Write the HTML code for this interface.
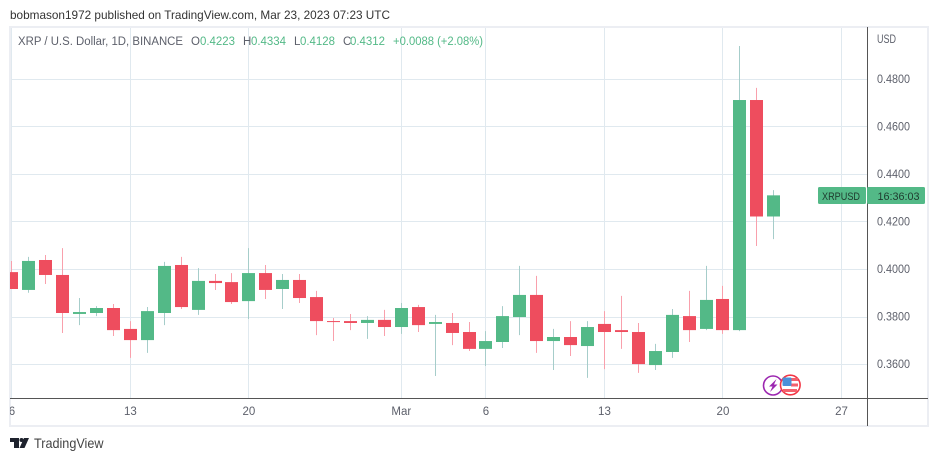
<!DOCTYPE html>
<html lang="en">
<head>
<meta charset="utf-8">
<title>XRP / U.S. Dollar chart</title>
<style>
html,body{margin:0;padding:0;background:#fff;width:939px;height:461px;overflow:hidden}
svg{display:block;font-family:"Liberation Sans",sans-serif}
</style>
</head>
<body>
<svg id="chart" width="939" height="461" viewBox="0 0 939 461" xmlns="http://www.w3.org/2000/svg">
  <defs><clipPath id="plot-clip"><rect x="10" y="28" width="857" height="370"/></clipPath></defs>
  <text x="10" y="19" font-size="12" fill="#333" textLength="380" lengthAdjust="spacingAndGlyphs">bobmason1972 published on TradingView.com, Mar 23, 2023 07:23 UTC</text>
  <rect x="10" y="27" width="918" height="399" fill="#fff" stroke="#eceef3" stroke-width="2"/>
  <g id="grid"></g>
  <g id="candles" clip-path="url(#plot-clip)"></g>
  <line x1="867.5" y1="27" x2="867.5" y2="426" stroke="#555"/>
  <line x1="10" y1="398.5" x2="928" y2="398.5" stroke="#555"/>
  <g id="price-axis" font-size="11.5" fill="#5d606b"></g>
  <text x="877" y="43" font-size="11.5" fill="#5d606b" textLength="19" lengthAdjust="spacingAndGlyphs">USD</text>
  <g id="time-axis" font-size="11.5" fill="#5d606b"></g>

  <g font-size="11.5">
    <text x="18" y="45" fill="#5d606b" textLength="165" lengthAdjust="spacingAndGlyphs">XRP / U.S. Dollar, 1D, BINANCE</text>
    <text x="191" y="45" fill="#5d606b">O</text>
    <text x="200" y="45" fill="#53b987" textLength="35" lengthAdjust="spacingAndGlyphs">0.4223</text>
    <text x="243" y="45" fill="#5d606b">H</text>
    <text x="251" y="45" fill="#53b987" textLength="35" lengthAdjust="spacingAndGlyphs">0.4334</text>
    <text x="294" y="45" fill="#5d606b">L</text>
    <text x="300" y="45" fill="#53b987" textLength="35" lengthAdjust="spacingAndGlyphs">0.4128</text>
    <text x="343" y="45" fill="#5d606b">C</text>
    <text x="350" y="45" fill="#53b987" textLength="35" lengthAdjust="spacingAndGlyphs">0.4312</text>
    <text x="393" y="45" fill="#53b987" textLength="90" lengthAdjust="spacingAndGlyphs">+0.0088 (+2.08%)</text>
  </g>

  <g>
    <rect x="818" y="187" width="48" height="17" rx="1.5" fill="#53b987"/>
    <rect x="867" y="187" width="58" height="17" rx="1.5" fill="#53b987"/>
    <text x="822" y="200" font-size="11" fill="#1f3a2e" textLength="38" lengthAdjust="spacingAndGlyphs">XRPUSD</text>
    <text x="877.5" y="200" font-size="11" fill="#1f3a2e" textLength="42" lengthAdjust="spacingAndGlyphs">16:36:03</text>
  </g>

  <g>
    <g>
      <circle cx="773" cy="385.5" r="9.5" fill="#fff" stroke="#9c27b0" stroke-width="1.6"/>
      <polygon points="776.5,379 769,386.5 772.5,386.5 770,392 777.5,384.5 774,384.5" fill="#9c27b0"/>
    </g>
    <g>
      <circle cx="790.3" cy="385" r="9.8" fill="#fff" stroke="#f23645" stroke-width="1.6"/>
      <rect x="783" y="378" width="15" height="3" fill="#f4606c"/>
      <rect x="791" y="383.5" width="7" height="3" fill="#f4606c"/>
      <rect x="783" y="389" width="14" height="3" fill="#f4606c"/>
      <rect x="782.5" y="377.5" width="9" height="8.5" rx="1" fill="#4a90d9"/>
    </g>
  </g>

  <g>
    <polygon points="10,438 19,438 19,448 14,448 14,442 10,442" fill="#1e222d"/>
    <circle cx="21.5" cy="440" r="2" fill="#1e222d"/>
    <polygon points="24,438 29,438 24.5,448 19.5,448" fill="#1e222d"/>
    <text x="34" y="448" font-size="14" fill="#444" textLength="69.5" lengthAdjust="spacingAndGlyphs">TradingView</text>
  </g>
</svg>
<script>
const categories = ["Feb 6","Feb 7","Feb 8","Feb 9","Feb 10","Feb 11","Feb 12","Feb 13","Feb 14","Feb 15","Feb 16","Feb 17","Feb 18","Feb 19","Feb 20","Feb 21","Feb 22","Feb 23","Feb 24","Feb 25","Feb 26","Feb 27","Feb 28","Mar 1","Mar 2","Mar 3","Mar 4","Mar 5","Mar 6","Mar 7","Mar 8","Mar 9","Mar 10","Mar 11","Mar 12","Mar 13","Mar 14","Mar 15","Mar 16","Mar 17","Mar 18","Mar 19","Mar 20","Mar 21","Mar 22","Mar 23"];
const opens = [.3989,.3914,.4040,.3977,.3813,.3817,.3838,.3750,.3703,.3817,.4019,.3830,.3952,.3947,.3867,.3985,.3918,.3956,.3884,.3783,.3783,.3775,.3788,.3758,.3842,.3771,.3775,.3737,.3666,.3695,.3800,.3893,.3699,.3716,.3678,.3771,.3745,.3737,.3598,.3653,.3804,.3750,.3876,.3745,.4713,.4223];
const closes = [.3918,.4036,.3977,.3817,.3821,.3838,.3745,.3703,.3825,.4015,.3842,.3952,.3943,.3863,.3985,.3914,.3956,.3880,.3783,.3779,.3775,.3788,.3758,.3838,.3766,.3779,.3733,.3666,.3699,.3804,.3893,.3699,.3716,.3682,.3758,.3737,.3737,.3602,.3657,.3809,.3745,.3872,.3745,.4713,.4223,.4312];
const highs = [.4036,.4053,.4061,.4090,.3880,.3846,.3855,.3783,.3842,.4032,.4053,.4006,.3981,.3985,.4090,.4019,.3981,.3981,.3910,.3796,.3813,.3804,.3830,.3859,.3851,.3809,.3817,.3779,.3741,.3846,.4015,.3973,.3750,.3783,.3783,.3825,.3889,.3775,.3687,.3834,.3910,.4015,.3931,.4940,.4764,.4334];
const lows = [.3918,.3902,.3939,.3733,.3766,.3804,.3720,.3628,.3649,.3766,.3834,.3809,.3914,.3855,.3792,.3876,.3834,.3859,.3724,.3699,.3745,.3708,.3720,.3729,.3737,.3552,.3682,.3657,.3594,.3670,.3724,.3649,.3577,.3636,.3544,.3581,.3666,.3565,.3577,.3628,.3695,.3745,.3729,.3741,.4099,.4128];
const priceTicks = [0.48,0.46,0.44,0.42,0.40,0.38,0.36];
const timeTickLabels = ["6","13","20","Mar","6","13","20","27"];
const timeTickDays = [0,7,14,23,28,35,42,49];

const NS = "http://www.w3.org/2000/svg";
const xScale = d => 11.9 + 16.93 * d;
const yScale = v => 269.5 - (v - 0.40) * 2377;
const crisp = p => Math.floor(p) + 0.5;
const GREEN = "#53b987", RED = "#ee4d5e", GREEN_WICK = "#a6cdca", RED_WICK = "#f9a0ac", GRID = "#e0e9ef";
const mk = (tag, attrs) => {
  const el = document.createElementNS(NS, tag);
  for (const k in attrs) el.setAttribute(k, attrs[k]);
  return el;
};
const grid = document.getElementById("grid");
const priceAxis = document.getElementById("price-axis");
const timeAxis = document.getElementById("time-axis");
const candles = document.getElementById("candles");

priceTicks.forEach(t => {
  const y = crisp(yScale(t));
  const line = mk("line", {x1: 11, x2: 867, y1: y, y2: y, stroke: GRID});
  
  
  grid.appendChild(line);
  const label = mk("text", {x: 877, y: yScale(t) + 3.6, textLength: 33, lengthAdjust: "spacingAndGlyphs"});
  label.textContent = t.toFixed(4);
  
  
  priceAxis.appendChild(label);
});

timeTickDays.forEach((d, i) => {
  const x = crisp(xScale(d));
  const line = mk("line", {x1: x, x2: x, y1: 28, y2: 398, stroke: GRID});
  
  
  grid.appendChild(line);
  const label = mk("text", {x: xScale(d), y: 415, "text-anchor": "middle"});
  label.textContent = timeTickLabels[i];
  if (i === 0) label.setAttribute("clip-path", "url(#plot-clip-label)");
  
  
  timeAxis.appendChild(label);
});
const labelClip = mk("clipPath", {id: "plot-clip-label"});
labelClip.appendChild(mk("rect", {x: 10, y: 400, width: 20, height: 24}));
document.querySelector("defs").appendChild(labelClip);

categories.forEach((c, i) => {
  const up = closes[i] >= opens[i];
  const cx = Math.round(xScale(i) - 0.5) + 0.5;
  const wick = mk("line", {x1: cx, x2: cx, y1: yScale(highs[i]), y2: yScale(lows[i]), stroke: up ? GREEN_WICK : RED_WICK, "stroke-width": 1});
  
  
  candles.appendChild(wick);
  const top = yScale(Math.max(opens[i], closes[i]));
  const bottom = yScale(Math.min(opens[i], closes[i]));
  const body = mk("rect", {x: cx - 6.5, y: top, width: 13, height: Math.max(bottom - top, 1), fill: up ? GREEN : RED});
  
  
  const tip = mk("title", {});
  tip.textContent = c;
  body.appendChild(tip);
  candles.appendChild(body);
});
</script>
</body>
</html>
